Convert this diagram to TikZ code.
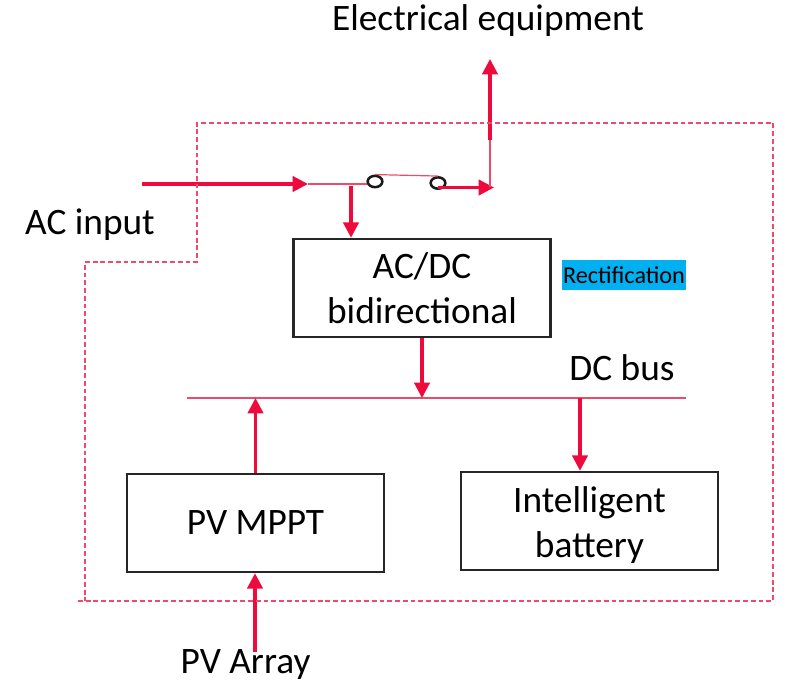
\documentclass[tikz,border=0pt]{standalone}
\usepackage{fontspec}
\setmainfont{Carlito}
\usetikzlibrary{arrows.meta,positioning,shapes.geometric}
\definecolor{powerred}{HTML}{EE0A3C}
\definecolor{thinred}{HTML}{EE4A6C}
\definecolor{tagblue}{HTML}{00B0F0}

\begin{document}
\begin{tikzpicture}[
    x=0.75pt, y=-0.75pt,
    box/.style={draw=black!85, line width=1.9pt, align=center, minimum width=193pt,
      minimum height=73.5pt, font=\fontsize{28}{34}\selectfont, inner sep=0pt},
    label/.style={font=\fontsize{28}{34}\selectfont, inner sep=0pt},
    arrow/.style={-{Triangle[length=11.5pt, width=11.5pt]}, line width=2.3pt, draw=powerred},
    thinline/.style={draw=thinred, line width=0.9pt},
    border/.style={draw=thinred, line width=0.9pt, dash pattern=on 3.6pt off 2.2pt},
    contact/.style={draw=black!90, ellipse, line width=1.9pt, minimum width=11pt,
      minimum height=8.5pt, inner sep=0pt}
  ]
    \useasboundingbox (0,0) rectangle (790,684);

    \node[box] (acdc) at (422,288) {AC/DC\\bidirectional};
    \node[box] (mppt) at (255.5,523) {PV MPPT};
    \node[box] (batt) at (589.5,521) {\rule{0pt}{26pt}Intelligent\\battery};

    \node[label] (equip) at (488,21) {Electrical equipment};
    \node[label] (acin) at (90,225) {AC input};
    \node[label] (dcbus) at (622,368) {DC bus};
    \node[label] (array) at (245.5,665) {PV Array};
    \node[fill=tagblue, minimum width=93pt, minimum height=22.5pt, inner sep=0pt,
      font=\fontsize{18.2}{22}\selectfont] (rect) at (624,275) {Rectification};

    \node[contact] (swa) at (375,181.5) {};
    \node[contact] (swb) at (438,183) {};

    % input side
    \coordinate (acstart) at (142,184);
    \coordinate (acmid) at (308,184);
    \coordinate (acleft) at (367,184);
    \coordinate (outstart) at (438,187.5);
    \coordinate (outend) at (494,187.5);
    \coordinate (outcorner) at (490,187.5);
    \coordinate (uplow) at (490,140);
    \coordinate (uptop) at (490,59);
    \coordinate (tap) at (351,186);

    \draw[arrow] (acstart) -- (acmid);
    \draw[thinline] (acmid) -- (acleft);
    \draw[thinline] (swa.north) -- (swb.north);
    \draw[arrow] (outstart) -- (outend);
    \draw[thinline] (outcorner) -- (uplow);
    \draw[arrow] (uplow) -- (uptop);
    \draw[arrow] (tap) -- (tap |- acdc.north);

    % dc bus
    \coordinate (busl) at (187,398);
    \coordinate (busr) at (686,398);
    \draw[thinline] (busl) -- (busr);
    \draw[arrow] (acdc.south) -- (acdc.south |- busl);
    \draw[arrow] (mppt.north) -- (mppt.north |- busl);
    \coordinate (busdrop) at (580,398);
    \draw[arrow] (busdrop) -- (busdrop |- batt.north);
    \coordinate (arrayup) at (255,652);
    \draw[arrow] (arrayup) -- (arrayup |- mppt.south);

    % boundary
    \draw[border] (78,601) -- (773,601) -- (773,123) -- (197,123) -- (197,262) -- (85,262) -- (85,601);
\end{tikzpicture}
\end{document}
